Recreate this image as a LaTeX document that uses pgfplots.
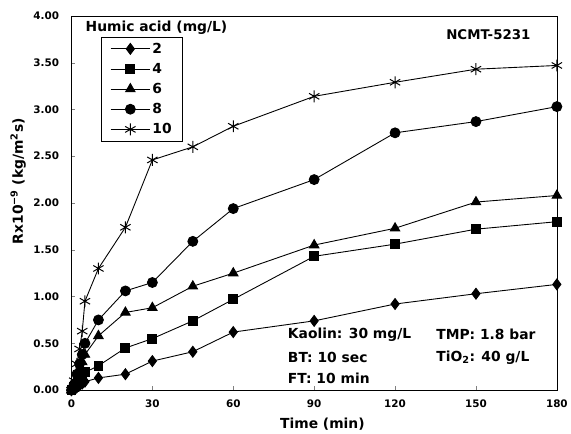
\documentclass[border=0pt]{standalone}
\usepackage{pgfplots}
\pgfplotsset{compat=1.18}
\usepackage{fontspec}
\setmainfont{DejaVu Sans}

% resistance vs time, one table per humic acid dose
\pgfplotstableread{
t R
0 0
1 0.01
2 0.03
3 0.05
4 0.07
5 0.09
10 0.13
20 0.17
30 0.31
45 0.41
60 0.62
90 0.74
120 0.92
150 1.03
180 1.13
}\hatwo
\pgfplotstableread{
t R
0 0
1 0.03
2 0.07
3 0.11
4 0.15
5 0.19
10 0.26
20 0.45
30 0.55
45 0.74
60 0.97
90 1.43
120 1.56
150 1.72
180 1.80
}\hafour
\pgfplotstableread{
t R
0 0
1 0.05
2 0.13
3 0.22
4 0.30
5 0.38
10 0.58
20 0.83
30 0.88
45 1.11
60 1.25
90 1.55
120 1.73
150 2.01
180 2.08
}\hasix
\pgfplotstableread{
t R
0 0
1 0.06
2 0.17
3 0.28
4 0.38
5 0.50
10 0.75
20 1.06
30 1.15
45 1.59
60 1.94
90 2.25
120 2.75
150 2.87
180 3.03
}\haeight
\pgfplotstableread{
t R
0 0
1 0.10
2 0.28
3 0.44
4 0.63
5 0.95
10 1.30
20 1.74
30 2.46
45 2.60
60 2.82
90 3.14
120 3.29
150 3.43
180 3.47
}\haten

\begin{document}
\bfseries
\begin{tikzpicture}
\begin{axis}[
    name=ax,
    scale only axis,
    width=489bp, height=377bp,
    xmin=0, xmax=180, ymin=0, ymax=4,
    xtick={0,30,...,180},
    ytick={0,0.5,...,4},
    xtick pos=bottom, ytick pos=left,
    tick align=inside,
    major tick length=4bp,
    axis line style={line width=0.6pt},
    /pgf/number format/assume math mode=true,
    yticklabel style={/pgf/number format/fixed,/pgf/number format/zerofill,/pgf/number format/precision=2},
    tick label style={font=\fontsize{10.5}{12}\selectfont},
    xticklabel shift=6bp,
    yticklabel shift=9bp,
    xlabel={Time (min)},
    ylabel={Rx10\textsuperscript{−9} (kg/m\textsuperscript{2}s)},
    label style={font=\fontsize{14}{16}\selectfont},
    xlabel style={at={(axis description cs:0.517,-0.09)}, anchor=center},
    ylabel style={at={(axis description cs:-0.11,0.558)}, anchor=center},
    legend style={at={(0.061,0.944)}, anchor=north west, draw=black,
        font=\fontsize{14}{16}\selectfont, row sep=4.5bp, inner xsep=9bp, inner ysep=4bp},
    legend cell align=left,
    legend image code/.code={\draw[mark repeat=2,mark phase=2] plot coordinates {(0cm,0cm)(0.7cm,0cm)(1.4cm,0cm)};},
    every axis plot/.append style={black, line width=0.9pt, mark options={solid, fill=black}},
]
\addplot[mark=diamond*, mark size=5.5bp] table[x=t,y=R] {\hatwo};
\addlegendentry{2}
\addplot[mark=square*, mark size=4.5bp] table[x=t,y=R] {\hafour};
\addlegendentry{4}
\addplot[mark=triangle*, mark size=5.5bp] table[x=t,y=R] {\hasix};
\addlegendentry{6}
\addplot[mark=*, mark size=5bp] table[x=t,y=R] {\haeight};
\addlegendentry{8}
\addplot[mark=asterisk, mark size=6bp, mark options={line width=1pt}] table[x=t,y=R] {\haten};
\addlegendentry{10}

\node[anchor=west, font=\fontsize{14}{16}\selectfont] at (axis cs:4,3.87) {Humic acid (mg/L)};
\node[font=\fontsize{13.5}{15}\selectfont] at (axis cs:154.6,3.80) {NCMT-5231};
\node[anchor=west, font=\fontsize{14}{16}\selectfont] at (axis cs:79,0.594) {Kaolin: 30 mg/L};
\node[anchor=west, font=\fontsize{14}{16}\selectfont] at (axis cs:79,0.35) {BT: 10 sec};
\node[anchor=west, font=\fontsize{14}{16}\selectfont] at (axis cs:79,0.127) {FT: 10 min};
\node[anchor=west, font=\fontsize{14}{16}\selectfont] at (axis cs:134,0.594) {TMP: 1.8 bar};
\node[anchor=west, font=\fontsize{14}{16}\selectfont] at (axis cs:134,0.35) {TiO\textsubscript{2}: 40 g/L};
\end{axis}
\path[use as bounding box] ([xshift=-72bp,yshift=-43bp]ax.south west) rectangle ([xshift=10bp,yshift=16bp]ax.north east);
\end{tikzpicture}
\end{document}
